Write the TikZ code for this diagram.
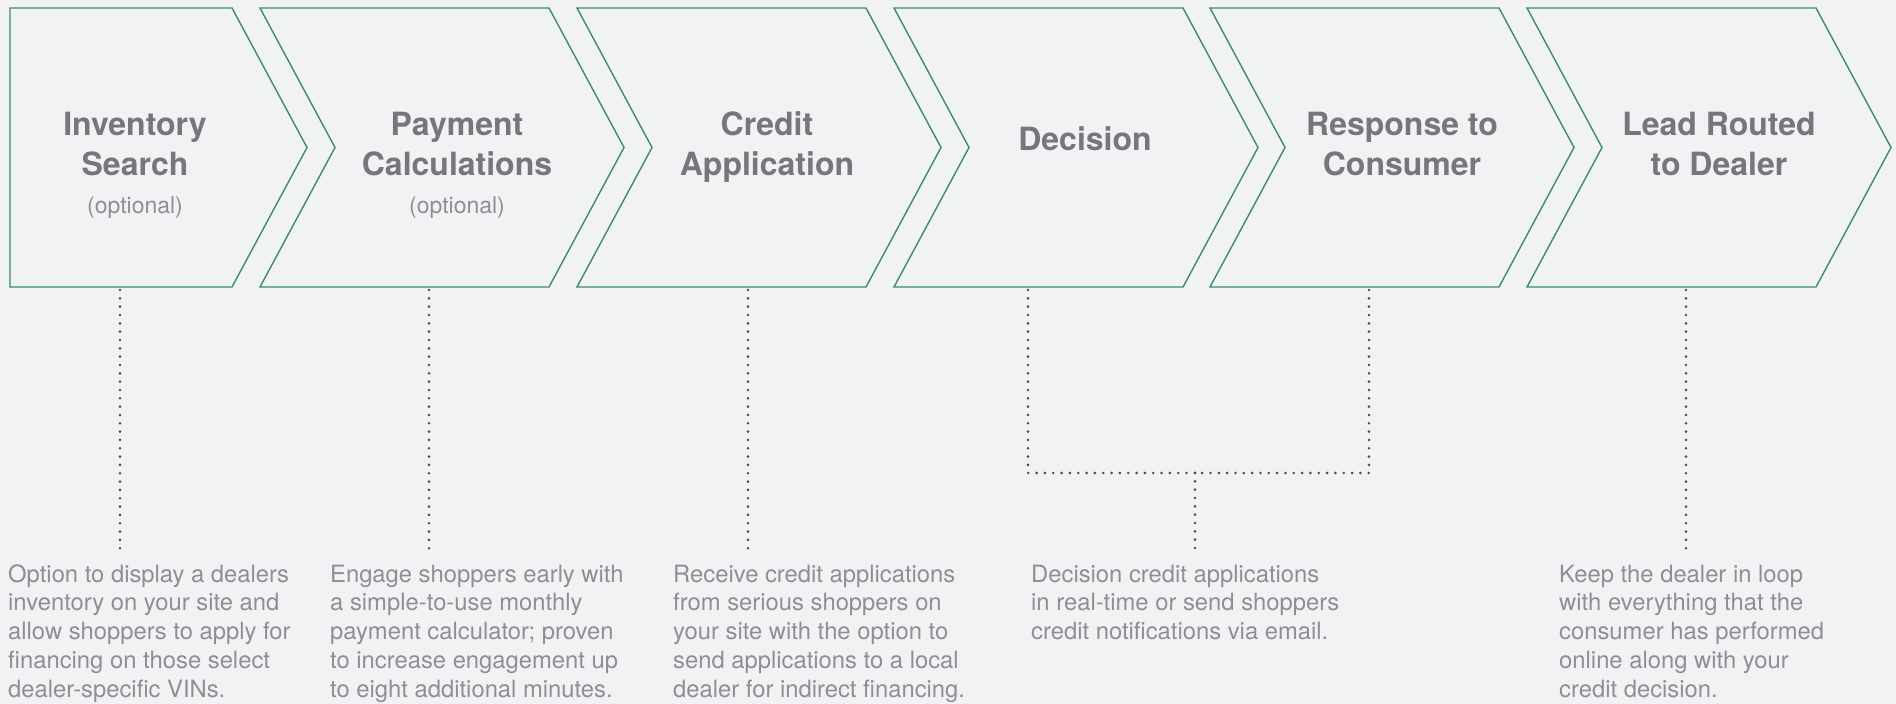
\documentclass[tikz,border=0pt]{standalone}
\usepackage{fontspec}
\setmainfont{TeX Gyre Heros}
\definecolor{bg}{HTML}{F1F2F4}
\definecolor{chevgreen}{HTML}{3E8B6D}
\definecolor{headgray}{HTML}{75777B}
\definecolor{bodygray}{HTML}{8E8F93}
\definecolor{dotgray}{HTML}{4C4D51}
\begin{document}
\begin{tikzpicture}[x=1pt,y=-1pt,
  chev/.style={draw=chevgreen, line width=1.4pt, fill=bg, line join=miter},
  head/.style={font=\bfseries\fontsize{32}{40}\selectfont, text=headgray, align=center, inner sep=0pt, anchor=base},
  opt/.style={font=\fontsize{23}{28}\selectfont, text=bodygray, inner sep=0pt, anchor=base},
  body/.style={font=\fontsize{23.8}{28.75}\selectfont, text=bodygray, align=left, inner sep=0pt, anchor=base west},
  dotline/.style={draw=dotgray, line width=2.9pt, line cap=round, dash pattern=on 0pt off 8.33pt}]
\useasboundingbox (0,0) rectangle (1896,704);
\fill[bg] (0,0) rectangle (1896,704);
% chevrons
\draw[chev] (10,8) -- (232,8) -- (307,147.5) -- (232,287) -- (10,287) -- cycle;
\foreach \L in {260,577,894,1210,1527}{
  \draw[chev] (\L,8) -- ({\L+289},8) -- ({\L+364},147.5) -- ({\L+289},287) -- (\L,287) -- ({\L+75},147.5) -- cycle;
}
% headings (base anchor = baseline of the last line)
\node[head] (h1) at (135,175) {Inventory\\Search};
\node[opt] (o1) at (135,213) {(optional)};
\node[head] (h2) at (457,175) {Payment\\Calculations};
\node[opt] (o2) at (457,213) {(optional)};
\node[head] (h3) at (767,175) {Credit\\Application};
\node[head] (h4) at (1085,150) {Decision};
\node[head] (h5) at (1402,175) {Response to\\Consumer};
\node[head] (h6) at (1719,175) {Lead Routed\\to Dealer};
% descriptions (base anchor = baseline of the last line)
\node[body] (d1) at (8,697) {Option to display a dealers\\inventory on your site and\\allow shoppers to apply for\\financing on those select\\dealer-specific VINs.};
\node[body] (d2) at (330,697) {Engage shoppers early with\\a simple-to-use monthly\\payment calculator; proven\\to increase engagement up\\to eight additional minutes.};
\node[body] (d3) at (673,697) {Receive credit applications\\from serious shoppers on\\your site with the option to\\send applications to a local\\dealer for indirect financing.};
\node[body] (d4) at (1031,639.5) {Decision credit applications\\in real-time or send shoppers\\credit notifications via email.};
\node[body] (d5) at (1559,697) {Keep the dealer in loop\\with everything that the\\consumer has performed\\online along with your\\credit decision.};
% connector end points
\coordinate (s1) at (120,290);   \coordinate (e1) at (120,549);
\coordinate (s2) at (429,290);   \coordinate (e2) at (429,549);
\coordinate (s3) at (748,290);   \coordinate (e3) at (748,549);
\coordinate (s4) at (1028,290);  \coordinate (s5) at (1369,290);
\coordinate (j4) at (1028,473);  \coordinate (j5) at (1369,473);
\coordinate (jm) at (1195,473);  \coordinate (e4) at (1195,551);
\coordinate (s6) at (1686,290);  \coordinate (e6) at (1686,549);
\draw[dotline] (s1) -- (e1);
\draw[dotline] (s2) -- (e2);
\draw[dotline] (s3) -- (e3);
\draw[dotline] (s4) -- (j4) -- (jm);
\draw[dotline] (s5) -- (j5) -- (jm);
\draw[dotline] (jm) -- (e4);
\draw[dotline] (s6) -- (e6);
\end{tikzpicture}
\end{document}
